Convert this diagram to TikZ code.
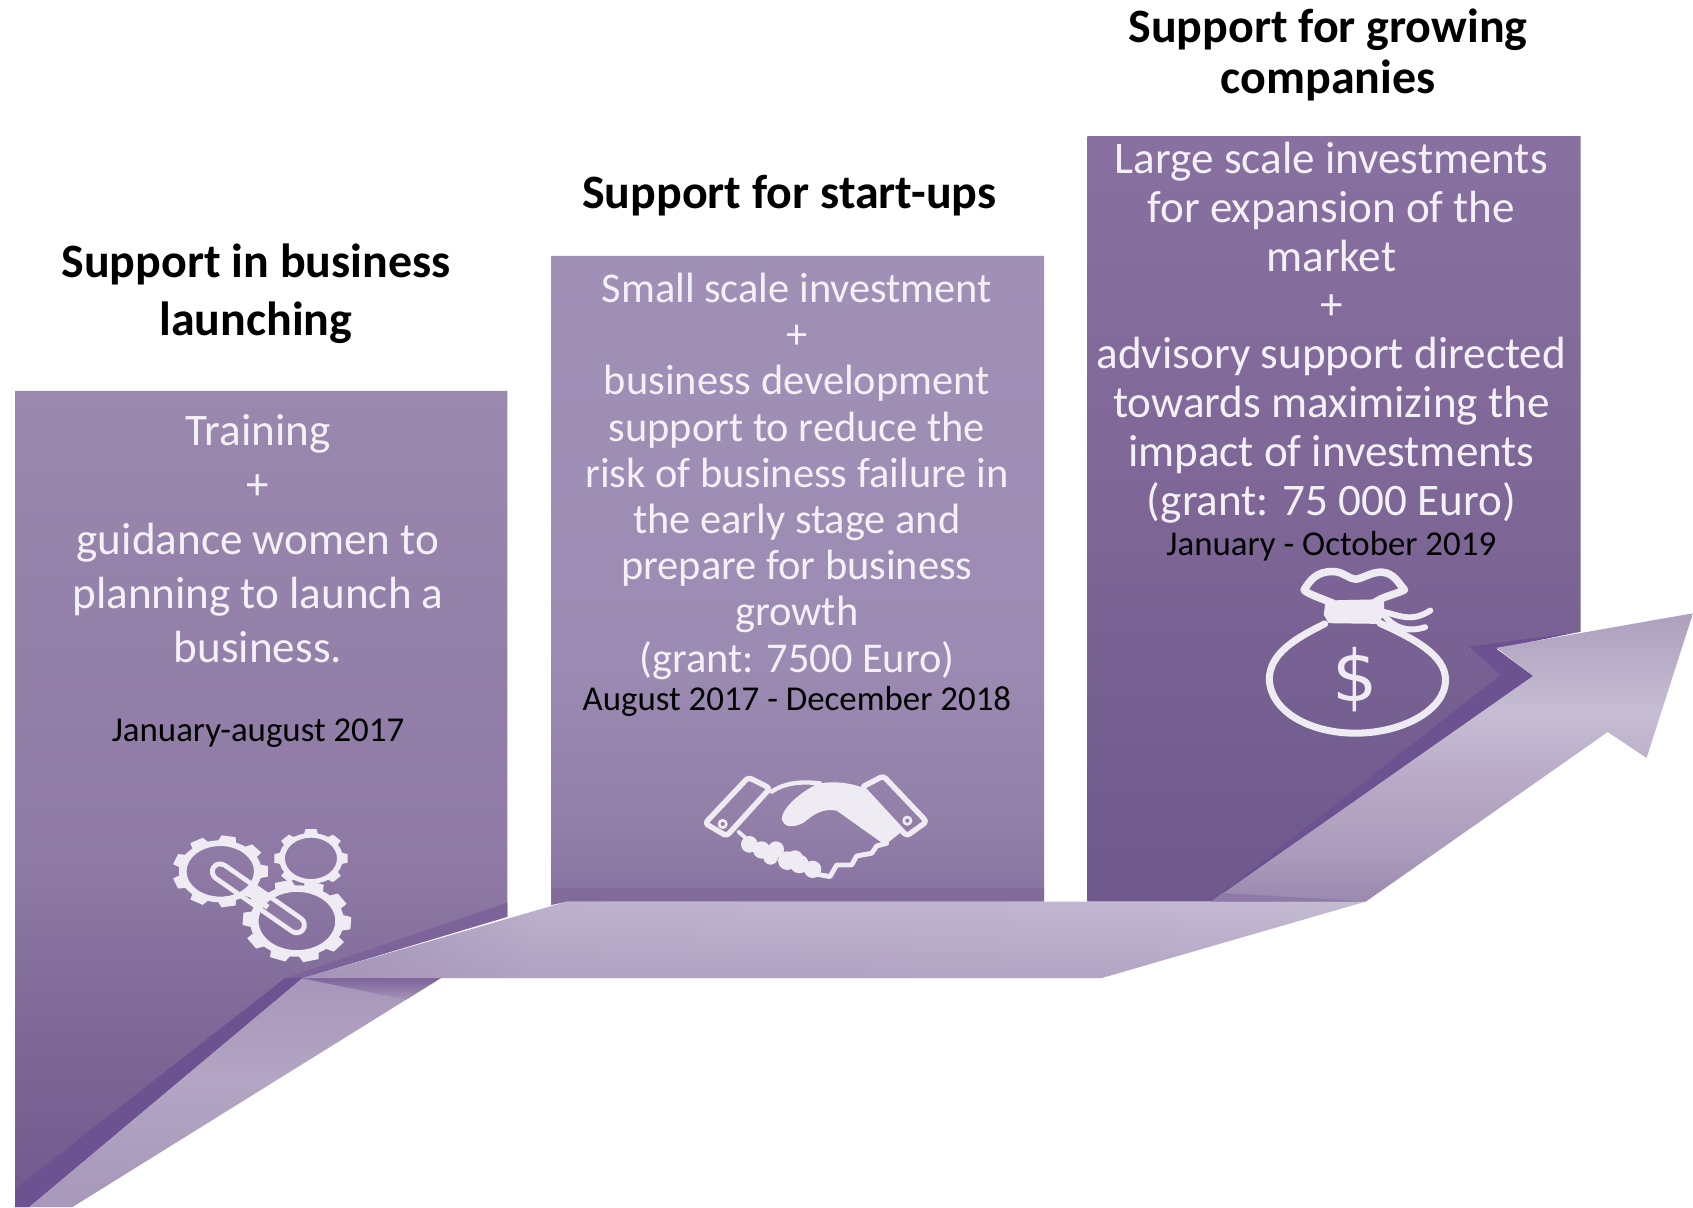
\documentclass[tikz,border=0pt]{standalone}
\usepackage{fontspec}
\setmainfont{Carlito}
\newfontfamily\dollarfont{DejaVu Sans}
\usetikzlibrary{fadings}
\definecolor{iconw}{HTML}{EFEBF3}
\definecolor{txtw}{HTML}{F3F0F6}
\definecolor{ba}{HTML}{9A88AE}\definecolor{bb}{HTML}{8E7AA5}\definecolor{bc}{HTML}{7F6897}\definecolor{bd}{HTML}{72598F}
\definecolor{ca}{HTML}{A090B6}\definecolor{cb}{HTML}{9C8BB2}\definecolor{cc}{HTML}{9280A9}\definecolor{cd}{HTML}{8A76A2}
\definecolor{da}{HTML}{8870A0}\definecolor{db}{HTML}{7D6696}\definecolor{dc}{HTML}{6E588C}
\definecolor{ea}{HTML}{ADA0BD}\definecolor{eb}{HTML}{C6BDD4}\definecolor{ec}{HTML}{B9AAC7}\definecolor{ed}{HTML}{AB9CBC}\definecolor{ee}{HTML}{9A89AE}
\definecolor{fa}{HTML}{A796B9}\definecolor{fb}{HTML}{B3A5C3}\definecolor{fc}{HTML}{A798BA}
\definecolor{ga}{HTML}{A595B8}\definecolor{gb}{HTML}{BEB2CD}\definecolor{gc}{HTML}{C2B7D1}\definecolor{gd}{HTML}{C6BCD4}
\definecolor{stripA}{HTML}{7C6399}\definecolor{stripB}{HTML}{6C5290}\definecolor{shadeC}{HTML}{8D7AA6}
\pgfdeclareverticalshading{boxone}{100bp}{color(0bp)=(bd);color(25bp)=(bd);color(36bp)=(bc);color(46bp)=(bb);color(75bp)=(ba);color(100bp)=(ba)}
\pgfdeclareverticalshading{boxtwo}{100bp}{color(0bp)=(cd);color(26.7bp)=(cd);color(31.5bp)=(cc);color(44.8bp)=(cb);color(75bp)=(ca);color(100bp)=(ca)}
\pgfdeclareverticalshading{boxthree}{100bp}{color(0bp)=(dc);color(25bp)=(dc);color(48.6bp)=(db);color(75bp)=(da);color(100bp)=(da)}
\pgfdeclareverticalshading{arrowfill}{100bp}{color(0bp)=(ee);color(25bp)=(ee);color(33.5bp)=(ed);color(46.5bp)=(ec);color(57.8bp)=(eb);color(75bp)=(ea);color(100bp)=(ea)}
\pgfdeclareverticalshading{lowerfill}{100bp}{color(0bp)=(fc);color(25bp)=(fc);color(52.8bp)=(fb);color(75bp)=(fa);color(100bp)=(fa)}
\pgfdeclarehorizontalshading{bandfill}{100bp}{color(0bp)=(ga);color(25bp)=(ga);color(36bp)=(gb);color(61bp)=(gc);color(75bp)=(gd);color(100bp)=(gd)}
\tikzset{
  x=1pt,y=-1pt,
  head/.style={font=\fontsize{44.4}{53}\selectfont\bfseries,text=black,align=center,inner sep=0pt},
  bodyone/.style={font=\fontsize{41.8}{50.2}\selectfont,text=txtw,align=center,inner sep=0pt},
  bodytwo/.style={font=\fontsize{39.3}{42.8}\selectfont,text=txtw,align=center,inner sep=0pt},
  bodythree/.style={font=\fontsize{41.8}{45.2}\selectfont,text=txtw,align=center,inner sep=0pt},
  datetext/.style={font=\fontsize{32.3}{36}\selectfont,text=black,inner sep=0pt},
  iconfill/.style={fill=iconw,draw=none},
  iconline/.style={draw=iconw,fill=none,line join=round,line cap=round},
}
\newcommand{\gearicon}[6]{% cx cy rx ry teeth offset
  \begin{scope}[shift={(#1,#2)},xscale=#3,yscale=#4]
    \fill[iconfill,even odd rule] (0,0) circle (.87) (0,0) circle (.71);
    \pgfmathsetmacro{\gstep}{360/#5}
    \foreach \i in {1,...,#5}{
      \fill[iconfill,rotate=#6+\i*\gstep] (-.2,.8) -- (-.15,1) -- (.15,1) -- (.2,.8) -- cycle;
    }
  \end{scope}}
\begin{document}
\begin{tikzpicture}
\useasboundingbox (0,0) rectangle (1568,1117.9);
% main boxes
\shade[shading=boxone] (14,362) -- (470,362) -- (470,849) -- (280,906) -- (27,1118) -- (14,1118) -- cycle;
\fill[stripA] (470,836) -- (470,849) -- (280,906) -- (264,906) -- cycle;
\fill[stripB] (264,906) -- (280,906) -- (27,1118) -- (14,1118) -- (14,1101) -- cycle;
\shade[shading=boxtwo] (511,237) -- (967,237) -- (967,835) -- (525,835) -- (511,838) -- cycle;
\fill[bc,opacity=.75] (511,822) -- (967,822) -- (967,835) -- (525,835) -- (511,838) -- cycle;
\shade[shading=boxthree] (1007,126) -- (1464,126) -- (1464,585) -- (1360,600) -- (1420,626) -- (1122,835) -- (1007,835) -- cycle;
\fill[stripB] (1464,585) -- (1360,599) -- (1390,625) -- (1122,835) -- (1420,626) -- (1386,601) -- cycle;
% arrow
\shade[shading=lowerfill] (27,1118) -- (280,906) -- (408,906) -- (67,1118) -- cycle;
\shade[top color=stripA,bottom color=fa] (280,906) -- (408,906) -- (376,926) -- cycle;
\shade[shading=bandfill] (280,906) -- (525,835) -- (1265,835) -- (1020,906) -- cycle;
\fill[ga,opacity=.55,path fading=north] (280,906) -- (525,835) -- (1265,835) -- (1020,906) -- cycle;
\shade[shading=arrowfill] (1122,835) -- (1420,626) -- (1386,600) -- (1568,568) -- (1525,702) -- (1489,678) -- (1265,835) -- cycle;
\fill[shadeC] (1132,827) -- (1265,835) -- (1122,835) -- cycle;
% headings
\node[head] (h1) at (237,272) {Support in business\\launching};
\node[head] (h2) at (731,181) {Support for start-ups};
\node[head,font=\fontsize{44.4}{47}\selectfont\bfseries] (h3) at (1230,51) {Support for growing\\companies};
% body texts
\node[bodyone] (t1) at (239,499) {Training\\+\\guidance women to\\planning to launch a\\business.};
\node[datetext] (d1) at (239,679) {January-august 2017};
\node[bodytwo] (t2) at (738,441) {Small scale investment\\+\\business development\\support to reduce the\\risk of business failure in\\the early stage and\\prepare for business\\growth\\(grant: 7500 Euro)};
\node[datetext] (d2) at (738,650) {August 2017 - December 2018};
\node[bodythree] (t3) at (1233,308) {Large scale investments\\for expansion of the\\market\\+\\advisory support directed\\towards maximizing the\\impact of investments\\(grant: 75 000 Euro)};
\node[datetext] (d3) at (1233,506) {January - October 2019};
% gears icon
\begin{scope}[shift={(0,722.4)},xscale=.3545,yscale=.3087]
  \draw[iconw,line width=19pt,line cap=round] (575,275) -- (775,435);
  \draw[bb,line width=10pt,line cap=round] (575,275) -- (775,435);
\end{scope}
\gearicon{204}{807}{44}{33}{9}{10}
\gearicon{288}{795}{34}{27}{8}{0}
\gearicon{275}{853}{50}{38}{10}{15}
\begin{scope}[shift={(0,722.4)},xscale=.3545,yscale=.3087]
  \draw[iconw,line width=5pt] (645,335) -- (700,382);
\end{scope}
% handshake icon
\begin{scope}[shift={(629.8,694.6)},scale=.3087]
  \draw[iconline,line width=5pt,rounded corners=3pt] (205,82) -- (270,115) -- (140,258) -- (75,220) -- cycle;
  \draw[iconline,line width=5pt,rounded corners=3pt] (610,78) -- (545,112) -- (680,258) -- (740,215) -- cycle;
  \draw[iconline,line width=2.5pt] (128,222) circle (11) (682,212) circle (11);
  \fill[iconw] (405,105) .. controls (360,130) and (310,170) .. (305,205) .. controls (310,235) and (345,235) .. (375,215) .. controls (405,190) and (430,175) .. (470,182) -- (615,285) -- (665,245) -- (545,112) .. controls (500,95) and (440,92) .. (405,105) -- cycle;
  \draw[iconline,line width=4pt] (275,125) .. controls (320,95) and (370,95) .. (420,100);
  \draw[iconline,line width=3.5pt] (175,245) -- (195,262);
  \fill[iconw] (208,283) circle (25) (245,300) circle (26) (288,298) circle (24) (272,322) circle (22) (322,332) circle (28) (358,342) circle (28) (398,358) circle (26) (345,325) circle (24);
  \draw[iconline,line width=4.5pt] (395,370) -- (450,380) -- (470,345) -- (515,345) -- (530,318) -- (575,310) -- (590,288) -- (620,280);
\end{scope}
% money bag icon
\begin{scope}[shift={(972.5,500)},xscale=.3796,yscale=.3087]
  \draw[iconline,line width=7pt] (690,190) .. controls (650,170) and (625,160) .. (620,150) .. controls (635,120) and (650,95) .. (690,95) .. controls (715,95) and (730,118) .. (745,118) .. controls (760,118) and (785,95) .. (810,97) .. controls (840,100) and (850,130) .. (865,150) .. controls (840,165) and (810,170) .. (790,190);
  \fill[iconw] (672,182) -- (815,178) -- (815,225) -- (800,252) -- (680,250) -- (668,225) -- cycle;
  \draw[iconline,line width=6.5pt] (670,252) .. controls (600,295) and (535,340) .. (535,420) .. controls (540,520) and (640,580) .. (745,580) .. controls (860,580) and (965,510) .. (965,420) .. controls (965,345) and (885,295) .. (805,250);
  \draw[iconline,line width=5.5pt] (810,215) .. controls (850,225) and (880,250) .. (928,212);
  \draw[iconline,line width=5.5pt] (815,225) .. controls (835,260) and (870,280) .. (915,262);
  \node[inner sep=0pt,text=iconw,font=\dollarfont\fontsize{66}{66}\selectfont] (dollar) at (745,420) {\$};
\end{scope}
\end{tikzpicture}
\end{document}
